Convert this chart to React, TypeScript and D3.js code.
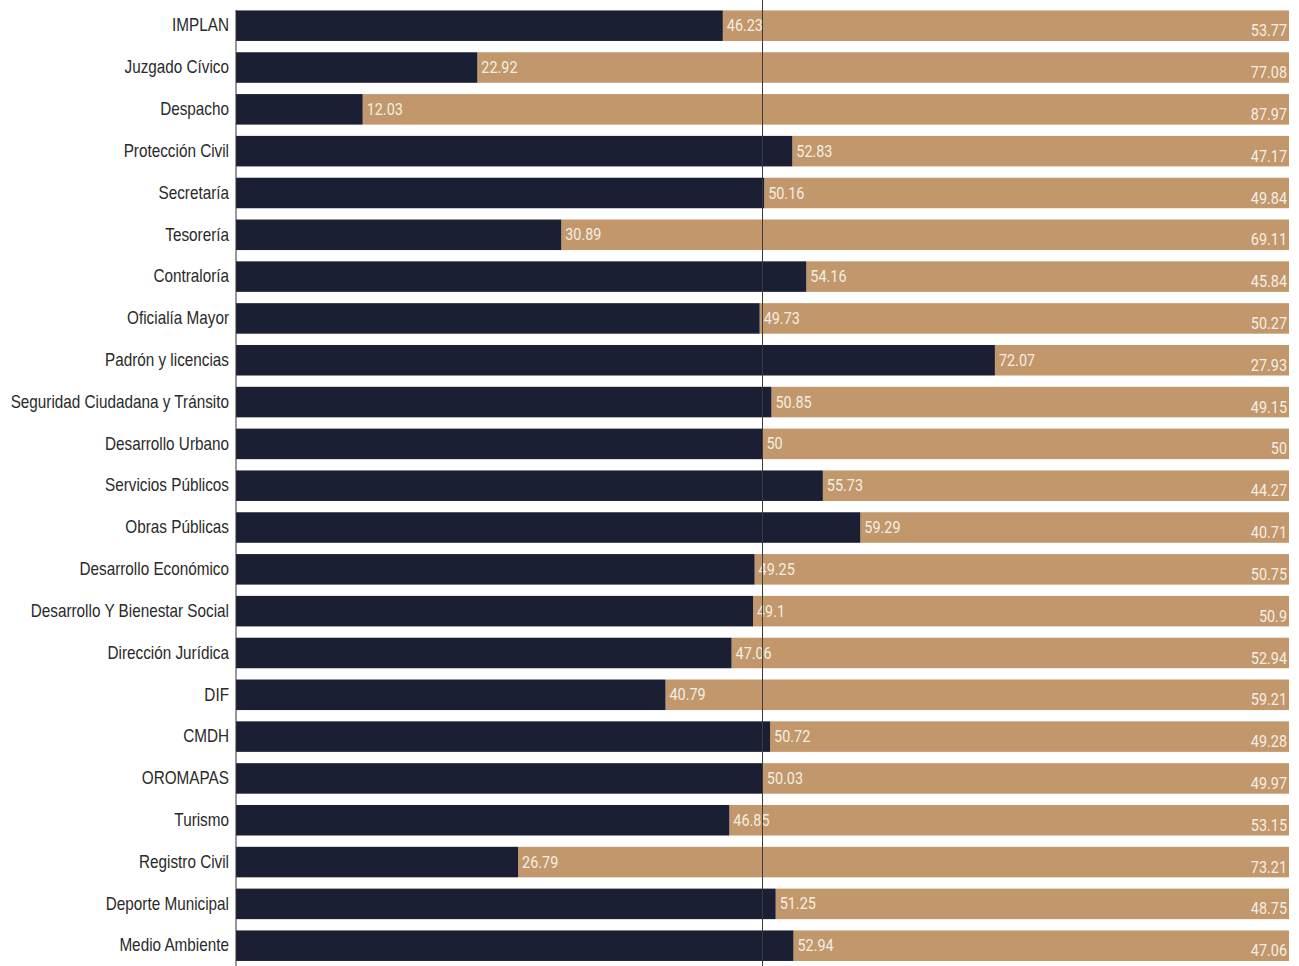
import React, { useEffect, useRef } from "react";
import * as d3 from "d3";

const categories = [
  "IMPLAN", "Juzgado Cívico", "Despacho", "Protección Civil", "Secretaría", "Tesorería",
  "Contraloría", "Oficialía Mayor", "Padrón y licencias", "Seguridad Ciudadana y Tránsito",
  "Desarrollo Urbano", "Servicios Públicos", "Obras Públicas", "Desarrollo Económico",
  "Desarrollo Y Bienestar Social", "Dirección Jurídica", "DIF", "CMDH", "OROMAPAS",
  "Turismo", "Registro Civil", "Deporte Municipal", "Medio Ambiente",
];
const darkValues = [
  46.23, 22.92, 12.03, 52.83, 50.16, 30.89, 54.16, 49.73, 72.07, 50.85, 50, 55.73, 59.29,
  49.25, 49.1, 47.06, 40.79, 50.72, 50.03, 46.85, 26.79, 51.25, 52.94,
];
const tanValues = [
  53.77, 77.08, 87.97, 47.17, 49.84, 69.11, 45.84, 50.27, 27.93, 49.15, 50, 44.27, 40.71,
  50.75, 50.9, 52.94, 59.21, 49.28, 49.97, 53.15, 73.21, 48.75, 47.06,
];

const W = 1299;
const H = 966;
const DARK = "#1b1f33";
const TAN = "#c1976b";

export default function App() {
  const ref = useRef<SVGSVGElement>(null);

  useEffect(() => {
    const svg = d3.select(ref.current);
    svg.selectAll("*").remove();

    const margin = { top: 5, right: 10, bottom: 0, left: 236 };
    const x = d3.scaleLinear().domain([0, 100]).range([margin.left, W - margin.right]);
    const y = d3
      .scaleBand()
      .domain(categories)
      .range([margin.top, margin.top + 41.8 * categories.length])
      .paddingInner(0.27)
      .paddingOuter(0.13);

    const rows = categories.map((c, i) => ({ c, d: darkValues[i], t: tanValues[i] }));
    const g = svg.append("g");

    g.selectAll(".tan")
      .data(rows)
      .enter()
      .append("rect")
      .attr("x", (r) => x(r.d))
      .attr("y", (r) => y(r.c)!)
      .attr("width", (r) => x(r.d + r.t) - x(r.d))
      .attr("height", y.bandwidth())
      .attr("fill", TAN);

    g.selectAll(".dark")
      .data(rows)
      .enter()
      .append("rect")
      .attr("x", x(0))
      .attr("y", (r) => y(r.c)!)
      .attr("width", (r) => x(r.d) - x(0))
      .attr("height", y.bandwidth())
      .attr("fill", DARK);

    // 50% reference line
    svg
      .append("line")
      .attr("x1", x(50))
      .attr("x2", x(50))
      .attr("y1", 0)
      .attr("y2", H)
      .attr("stroke", "#3a3a3a")
      .attr("stroke-width", 1);

    // left axis, condensed labels
    const sx = 0.85;
    const axis = svg
      .append("g")
      .attr("transform", `translate(${x(0)},0)`)
      .call(d3.axisLeft(y).tickSize(0).tickPadding(0));
    axis.select(".domain").attr("stroke", "#333").attr("d", `M0,${margin.top + 5}V${H}`);
    axis
      .selectAll("text")
      .attr("x", -7 / sx)
      .attr("dy", "0.32em")
      .attr("transform", `scale(${sx},1)`)
      .attr("font-family", "'Liberation Sans', Arial, sans-serif")
      .attr("font-size", 18)
      .attr("fill", "#2a2a2a");

    const valueFont = "'Roboto', sans-serif";
    const vx = 0.9;
    g.selectAll(".dlabel")
      .data(rows)
      .enter()
      .append("text")
      .attr("transform", (r) => `translate(${x(r.d) + 4},${y(r.c)! + y.bandwidth() / 2}) scale(${vx},1)`)
      .attr("dy", "0.35em")
      .attr("font-family", valueFont)
      .attr("font-size", 16)
      .attr("fill", "#f4eee4")
      .text((r) => String(r.d));

    g.selectAll(".tlabel")
      .data(rows)
      .enter()
      .append("text")
      .attr("transform", (r) => `translate(${x(r.d + r.t) - 2},${y(r.c)! + y.bandwidth() / 2 + 5}) scale(${vx},1)`)
      .attr("dy", "0.35em")
      .attr("text-anchor", "end")
      .attr("font-family", valueFont)
      .attr("font-size", 16)
      .attr("fill", "#f4eee4")
      .text((r) => String(r.t));
  }, []);

  return <svg ref={ref} width={W} height={H} style={{ position: "absolute", left: 0, top: 0, background: "#fff" }} />;
}
